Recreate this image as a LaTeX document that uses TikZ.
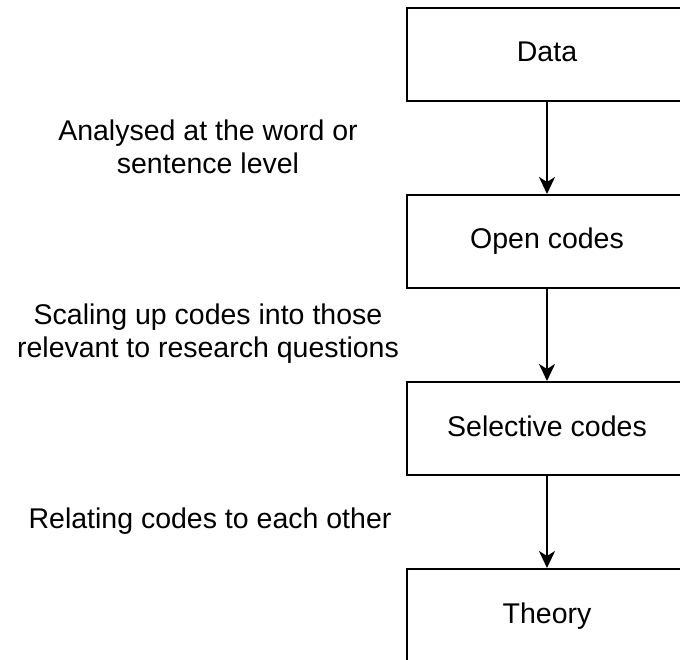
\documentclass[tikz,border=0pt]{standalone}
\usepackage{fontspec}
\setmainfont{Liberation Sans}
\usetikzlibrary{arrows.meta}
\begin{document}
\begin{tikzpicture}[x=1pt,y=-1pt,
  stage/.style={draw=black,line width=2pt,minimum width=280pt,minimum height=93pt,
    inner sep=0pt,text height=20pt,text depth=5pt,font=\fontsize{28.5}{33}\selectfont},
  note/.style={align=center,inner sep=0pt,font=\fontsize{28.5}{33}\selectfont},
  flow/.style={line width=2pt,-{Stealth[length=17pt,width=16pt,inset=5pt]}}]
\useasboundingbox (0,0) rectangle (680,660);
\begin{scope}
\clip (0,0) rectangle (680,660);
\node[stage] (data) at (547,54.5) {Data};
\node[stage] (open) at (547,241.5) {Open codes};
\node[stage] (sel)  at (547,428.5) {Selective codes};
\node[stage] (theory) at (547,615.5) {Theory};
\end{scope}
\draw[flow] (data) -- (open);
\draw[flow] (open) -- (sel);
\draw[flow] (sel) -- (theory);
\node[note] (n1) at (208,147) {Analysed at the word or\\sentence level};
\node[note] (n2) at (208,334) {Scaling up codes into those\\relevant to research questions};
\node[note] (n3) at (210,521) {Relating codes to each other};
\end{tikzpicture}
\end{document}
